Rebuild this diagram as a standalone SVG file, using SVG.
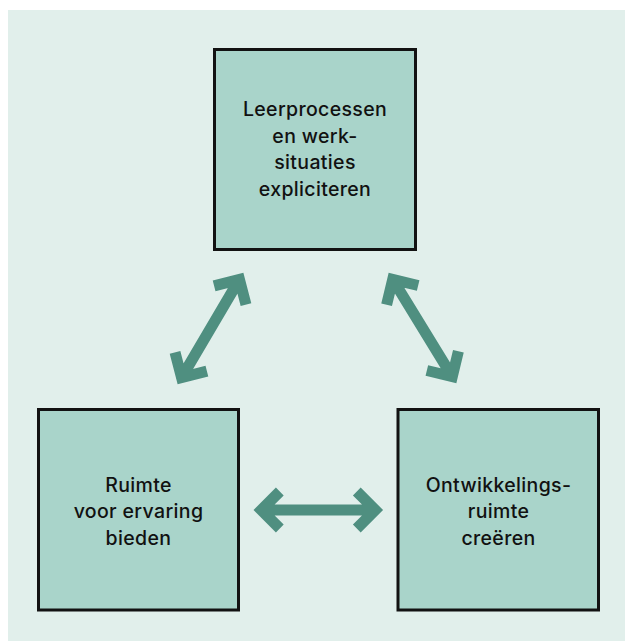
<svg xmlns="http://www.w3.org/2000/svg" width="625" height="641" viewBox="0 0 625 641">
  <style>
    .box { fill: #a9d4ca; stroke: #121212; stroke-width: 3; }
    .lbl { font-family: Inter, "Liberation Sans", sans-serif; font-size: 19.5px; letter-spacing: 0.35px; fill: #111; text-anchor: middle; font-weight: 500; }
    .arr { fill: none; stroke: #4f8f80; stroke-width: 11; stroke-linejoin: miter; stroke-linecap: butt; }
  </style>
  <defs>
    <g id="dblarrow">
      <path class="arr" d="M-57,0 H57 M-38.5,-18.5 L-57,0 L-38.5,18.5 M38.5,-18.5 L57,0 L38.5,18.5"/>
    </g>
  </defs>
  <rect x="8" y="10" width="617" height="631" fill="#e1efeb"/>
  <g id="connectors">
    <use href="#dblarrow" transform="translate(210.5,328.5) rotate(-59.5)"/>
    <use href="#dblarrow" transform="translate(422.5,328) rotate(58.5)"/>
    <use href="#dblarrow" transform="translate(318.3,510)"/>
  </g>
  <g id="node-top">
    <rect class="box" x="214.5" y="49.5" width="201" height="200"/>
    <text class="lbl" x="315" y="116">Leerprocessen</text>
    <text class="lbl" x="315" y="142.5">en werk-</text>
    <text class="lbl" x="315" y="169">situaties</text>
    <text class="lbl" x="315" y="195.5">expliciteren</text>
  </g>
  <g id="node-left">
    <rect class="box" x="38.5" y="409.5" width="200" height="200.5"/>
    <text class="lbl" x="138.5" y="491.5">Ruimte</text>
    <text class="lbl" x="138.5" y="518">voor ervaring</text>
    <text class="lbl" x="138.5" y="544.5">bieden</text>
  </g>
  <g id="node-right">
    <rect class="box" x="398" y="409.5" width="200.5" height="200.5"/>
    <text class="lbl" x="498.5" y="491.5">Ontwikkelings-</text>
    <text class="lbl" x="498.5" y="518">ruimte</text>
    <text class="lbl" x="498.5" y="544.5">creëren</text>
  </g>
</svg>
